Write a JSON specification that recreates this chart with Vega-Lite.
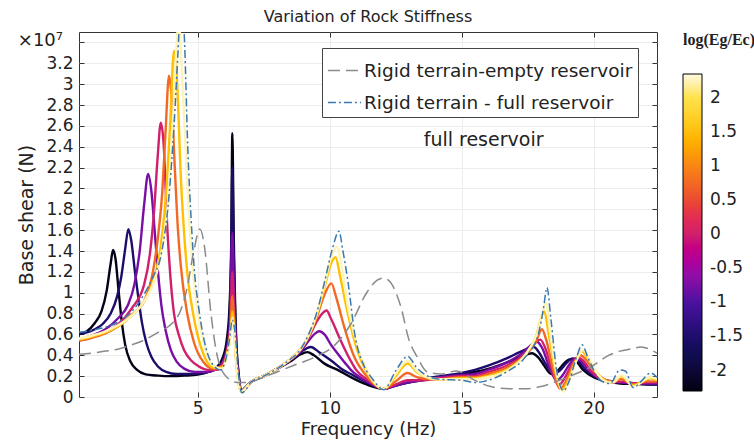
{
  "$schema": "https://vega.github.io/schema/vega-lite/v6.json",
  "autosize": "none",
  "width": 578,
  "height": 365,
  "padding": {"left": 79, "top": 32, "right": 97, "bottom": 46},
  "background": "white",
  "title": {"text": "Variation of Rock Stiffness", "fontSize": 16, "fontWeight": "normal", "font": "DejaVu Sans", "color": "#222", "offset": 7},
  "config": {
    "font": "DejaVu Sans",
    "view": {"stroke": "#333", "strokeWidth": 1},
    "axis": {"labelFont": "DejaVu Sans", "titleFont": "DejaVu Sans", "labelColor": "#222", "titleColor": "#222", "labelFontSize": 17, "titleFontSize": 19, "titleFontWeight": "normal", "gridColor": "#ececec", "domain": false, "tickColor": "#333"}
  },
  "datasets": {
    "curves": [
      {"s":-2.25,"f":0.5,"v":0.6},{"s":-2.25,"f":0.8,"v":0.63},{"s":-2.25,"f":1.1,"v":0.71},{"s":-2.25,"f":1.35,"v":0.82},{"s":-2.25,"f":1.55,"v":1.02},{"s":-2.25,"f":1.7,"v":1.28},{"s":-2.25,"f":1.79,"v":1.41},{"s":-2.25,"f":1.88,"v":1.33},{"s":-2.25,"f":2.0,"v":1.02},{"s":-2.25,"f":2.12,"v":0.72},{"s":-2.25,"f":2.25,"v":0.5},{"s":-2.25,"f":2.45,"v":0.34},{"s":-2.25,"f":2.7,"v":0.26},{"s":-2.25,"f":3.0,"v":0.22},{"s":-2.25,"f":3.5,"v":0.205},{"s":-2.25,"f":4.0,"v":0.2},{"s":-2.25,"f":4.5,"v":0.205},{"s":-2.25,"f":5.0,"v":0.215},{"s":-2.25,"f":5.4,"v":0.24},{"s":-2.25,"f":5.7,"v":0.28},{"s":-2.25,"f":5.95,"v":0.38},{"s":-2.25,"f":6.1,"v":0.55},{"s":-2.25,"f":6.2,"v":0.85},{"s":-2.25,"f":6.27,"v":1.5},{"s":-2.25,"f":6.31,"v":2.53},{"s":-2.25,"f":6.36,"v":1.6},{"s":-2.25,"f":6.45,"v":0.6},{"s":-2.25,"f":6.55,"v":0.22},{"s":-2.25,"f":6.65,"v":0.06},{"s":-2.25,"f":6.8,"v":0.09},{"s":-2.25,"f":7.0,"v":0.14},{"s":-2.25,"f":7.5,"v":0.2},{"s":-2.25,"f":8.0,"v":0.27},{"s":-2.25,"f":8.5,"v":0.34},{"s":-2.25,"f":8.9,"v":0.41},{"s":-2.25,"f":9.15,"v":0.43},{"s":-2.25,"f":9.4,"v":0.4},{"s":-2.25,"f":9.8,"v":0.32},{"s":-2.25,"f":10.3,"v":0.26},{"s":-2.25,"f":10.8,"v":0.19},{"s":-2.25,"f":11.4,"v":0.12},{"s":-2.25,"f":12.05,"v":0.08},{"s":-2.25,"f":12.5,"v":0.11},{"s":-2.25,"f":13.0,"v":0.14},{"s":-2.25,"f":13.5,"v":0.16},{"s":-2.25,"f":14.2,"v":0.19},{"s":-2.25,"f":15.0,"v":0.22},{"s":-2.25,"f":15.5,"v":0.24},{"s":-2.25,"f":16.0,"v":0.27},{"s":-2.25,"f":16.7,"v":0.33},{"s":-2.25,"f":17.2,"v":0.38},{"s":-2.25,"f":17.66,"v":0.42},{"s":-2.25,"f":17.9,"v":0.38},{"s":-2.25,"f":18.1,"v":0.31},{"s":-2.25,"f":18.4,"v":0.22},{"s":-2.25,"f":18.6,"v":0.24},{"s":-2.25,"f":18.8,"v":0.3},{"s":-2.25,"f":19.1,"v":0.36},{"s":-2.25,"f":19.3,"v":0.35},{"s":-2.25,"f":19.6,"v":0.26},{"s":-2.25,"f":20.0,"v":0.19},{"s":-2.25,"f":20.5,"v":0.15},{"s":-2.25,"f":21.0,"v":0.13},{"s":-2.25,"f":21.5,"v":0.125},{"s":-2.25,"f":22.0,"v":0.12},{"s":-2.25,"f":22.4,"v":0.12},

      {"s":-1.5,"f":0.5,"v":0.61},{"s":-1.5,"f":0.8,"v":0.62},{"s":-1.5,"f":1.1,"v":0.65},{"s":-1.5,"f":1.4,"v":0.7},{"s":-1.5,"f":1.7,"v":0.8},{"s":-1.5,"f":1.95,"v":0.97},{"s":-1.5,"f":2.1,"v":1.15},{"s":-1.5,"f":2.25,"v":1.42},{"s":-1.5,"f":2.37,"v":1.61},{"s":-1.5,"f":2.48,"v":1.5},{"s":-1.5,"f":2.62,"v":1.2},{"s":-1.5,"f":2.75,"v":0.95},{"s":-1.5,"f":2.88,"v":0.72},{"s":-1.5,"f":3.05,"v":0.52},{"s":-1.5,"f":3.25,"v":0.38},{"s":-1.5,"f":3.5,"v":0.29},{"s":-1.5,"f":3.8,"v":0.24},{"s":-1.5,"f":4.2,"v":0.22},{"s":-1.5,"f":4.7,"v":0.22},{"s":-1.5,"f":5.2,"v":0.23},{"s":-1.5,"f":5.6,"v":0.26},{"s":-1.5,"f":5.9,"v":0.33},{"s":-1.5,"f":6.1,"v":0.48},{"s":-1.5,"f":6.2,"v":0.75},{"s":-1.5,"f":6.27,"v":1.4},{"s":-1.5,"f":6.31,"v":2.2},{"s":-1.5,"f":6.36,"v":1.4},{"s":-1.5,"f":6.45,"v":0.55},{"s":-1.5,"f":6.55,"v":0.2},{"s":-1.5,"f":6.65,"v":0.06},{"s":-1.5,"f":6.8,"v":0.09},{"s":-1.5,"f":7.0,"v":0.14},{"s":-1.5,"f":7.5,"v":0.2},{"s":-1.5,"f":8.0,"v":0.27},{"s":-1.5,"f":8.5,"v":0.35},{"s":-1.5,"f":8.9,"v":0.43},{"s":-1.5,"f":9.28,"v":0.48},{"s":-1.5,"f":9.6,"v":0.43},{"s":-1.5,"f":10.05,"v":0.35},{"s":-1.5,"f":10.5,"v":0.26},{"s":-1.5,"f":10.8,"v":0.22},{"s":-1.5,"f":11.4,"v":0.14},{"s":-1.5,"f":12.05,"v":0.08},{"s":-1.5,"f":12.5,"v":0.11},{"s":-1.5,"f":13.0,"v":0.14},{"s":-1.5,"f":13.5,"v":0.17},{"s":-1.5,"f":14.2,"v":0.2},{"s":-1.5,"f":15.0,"v":0.23},{"s":-1.5,"f":15.5,"v":0.26},{"s":-1.5,"f":16.0,"v":0.3},{"s":-1.5,"f":16.7,"v":0.37},{"s":-1.5,"f":17.2,"v":0.43},{"s":-1.5,"f":17.73,"v":0.48},{"s":-1.5,"f":17.95,"v":0.42},{"s":-1.5,"f":18.15,"v":0.33},{"s":-1.5,"f":18.5,"v":0.23},{"s":-1.5,"f":18.7,"v":0.25},{"s":-1.5,"f":18.95,"v":0.32},{"s":-1.5,"f":19.2,"v":0.37},{"s":-1.5,"f":19.4,"v":0.35},{"s":-1.5,"f":19.7,"v":0.26},{"s":-1.5,"f":20.1,"v":0.19},{"s":-1.5,"f":20.5,"v":0.16},{"s":-1.5,"f":21.0,"v":0.14},{"s":-1.5,"f":21.5,"v":0.13},{"s":-1.5,"f":22.0,"v":0.125},{"s":-1.5,"f":22.4,"v":0.12},

      {"s":-0.75,"f":0.5,"v":0.55},{"s":-0.75,"f":1.0,"v":0.59},{"s":-0.75,"f":1.5,"v":0.65},{"s":-0.75,"f":2.0,"v":0.76},{"s":-0.75,"f":2.35,"v":0.88},{"s":-0.75,"f":2.6,"v":1.08},{"s":-0.75,"f":2.8,"v":1.4},{"s":-0.75,"f":2.97,"v":1.85},{"s":-0.75,"f":3.12,"v":2.14},{"s":-0.75,"f":3.24,"v":1.98},{"s":-0.75,"f":3.38,"v":1.55},{"s":-0.75,"f":3.5,"v":1.18},{"s":-0.75,"f":3.62,"v":0.88},{"s":-0.75,"f":3.78,"v":0.64},{"s":-0.75,"f":3.98,"v":0.45},{"s":-0.75,"f":4.2,"v":0.34},{"s":-0.75,"f":4.5,"v":0.27},{"s":-0.75,"f":4.9,"v":0.24},{"s":-0.75,"f":5.3,"v":0.24},{"s":-0.75,"f":5.65,"v":0.26},{"s":-0.75,"f":5.95,"v":0.33},{"s":-0.75,"f":6.1,"v":0.45},{"s":-0.75,"f":6.22,"v":0.7},{"s":-0.75,"f":6.31,"v":1.57},{"s":-0.75,"f":6.37,"v":1.0},{"s":-0.75,"f":6.45,"v":0.45},{"s":-0.75,"f":6.55,"v":0.18},{"s":-0.75,"f":6.65,"v":0.05},{"s":-0.75,"f":6.8,"v":0.08},{"s":-0.75,"f":7.0,"v":0.14},{"s":-0.75,"f":7.5,"v":0.2},{"s":-0.75,"f":8.0,"v":0.27},{"s":-0.75,"f":8.5,"v":0.35},{"s":-0.75,"f":8.9,"v":0.44},{"s":-0.75,"f":9.2,"v":0.54},{"s":-0.75,"f":9.45,"v":0.61},{"s":-0.75,"f":9.6,"v":0.63},{"s":-0.75,"f":9.8,"v":0.6},{"s":-0.75,"f":10.05,"v":0.5},{"s":-0.75,"f":10.29,"v":0.42},{"s":-0.75,"f":10.6,"v":0.32},{"s":-0.75,"f":10.8,"v":0.26},{"s":-0.75,"f":11.4,"v":0.15},{"s":-0.75,"f":12.05,"v":0.08},{"s":-0.75,"f":12.5,"v":0.11},{"s":-0.75,"f":12.95,"v":0.14},{"s":-0.75,"f":13.5,"v":0.16},{"s":-0.75,"f":14.2,"v":0.19},{"s":-0.75,"f":15.0,"v":0.21},{"s":-0.75,"f":15.5,"v":0.22},{"s":-0.75,"f":16.0,"v":0.26},{"s":-0.75,"f":16.7,"v":0.33},{"s":-0.75,"f":17.3,"v":0.42},{"s":-0.75,"f":17.85,"v":0.53},{"s":-0.75,"f":18.05,"v":0.47},{"s":-0.75,"f":18.3,"v":0.3},{"s":-0.75,"f":18.6,"v":0.16},{"s":-0.75,"f":18.8,"v":0.2},{"s":-0.75,"f":19.05,"v":0.3},{"s":-0.75,"f":19.3,"v":0.37},{"s":-0.75,"f":19.5,"v":0.35},{"s":-0.75,"f":19.8,"v":0.26},{"s":-0.75,"f":20.2,"v":0.18},{"s":-0.75,"f":20.6,"v":0.15},{"s":-0.75,"f":21.0,"v":0.14},{"s":-0.75,"f":21.5,"v":0.13},{"s":-0.75,"f":22.0,"v":0.13},{"s":-0.75,"f":22.4,"v":0.13},

      {"s":0,"f":0.5,"v":0.54},{"s":0,"f":1.0,"v":0.57},{"s":0,"f":1.5,"v":0.62},{"s":0,"f":2.0,"v":0.7},{"s":0,"f":2.5,"v":0.85},{"s":0,"f":2.97,"v":1.08},{"s":0,"f":3.2,"v":1.4},{"s":0,"f":3.35,"v":1.8},{"s":0,"f":3.48,"v":2.3},{"s":0,"f":3.6,"v":2.63},{"s":0,"f":3.7,"v":2.45},{"s":0,"f":3.85,"v":1.6},{"s":0,"f":3.98,"v":1.1},{"s":0,"f":4.1,"v":0.8},{"s":0,"f":4.3,"v":0.58},{"s":0,"f":4.48,"v":0.45},{"s":0,"f":4.75,"v":0.35},{"s":0,"f":5.0,"v":0.3},{"s":0,"f":5.4,"v":0.26},{"s":0,"f":5.7,"v":0.26},{"s":0,"f":5.95,"v":0.32},{"s":0,"f":6.12,"v":0.45},{"s":0,"f":6.24,"v":0.7},{"s":0,"f":6.31,"v":1.2},{"s":0,"f":6.37,"v":0.85},{"s":0,"f":6.45,"v":0.4},{"s":0,"f":6.55,"v":0.15},{"s":0,"f":6.65,"v":0.05},{"s":0,"f":6.8,"v":0.08},{"s":0,"f":7.0,"v":0.14},{"s":0,"f":7.5,"v":0.2},{"s":0,"f":8.0,"v":0.27},{"s":0,"f":8.5,"v":0.36},{"s":0,"f":8.9,"v":0.45},{"s":0,"f":9.2,"v":0.57},{"s":0,"f":9.5,"v":0.72},{"s":0,"f":9.75,"v":0.81},{"s":0,"f":9.88,"v":0.83},{"s":0,"f":10.05,"v":0.75},{"s":0,"f":10.4,"v":0.55},{"s":0,"f":10.79,"v":0.35},{"s":0,"f":11.0,"v":0.26},{"s":0,"f":11.4,"v":0.17},{"s":0,"f":12.05,"v":0.08},{"s":0,"f":12.5,"v":0.12},{"s":0,"f":12.95,"v":0.16},{"s":0,"f":13.5,"v":0.16},{"s":0,"f":14.2,"v":0.18},{"s":0,"f":15.0,"v":0.2},{"s":0,"f":15.5,"v":0.2},{"s":0,"f":16.0,"v":0.24},{"s":0,"f":16.7,"v":0.3},{"s":0,"f":17.4,"v":0.41},{"s":0,"f":17.98,"v":0.55},{"s":0,"f":18.15,"v":0.48},{"s":0,"f":18.4,"v":0.28},{"s":0,"f":18.67,"v":0.11},{"s":0,"f":18.9,"v":0.18},{"s":0,"f":19.15,"v":0.3},{"s":0,"f":19.4,"v":0.38},{"s":0,"f":19.6,"v":0.35},{"s":0,"f":19.9,"v":0.25},{"s":0,"f":20.3,"v":0.17},{"s":0,"f":20.7,"v":0.14},{"s":0,"f":21.1,"v":0.15},{"s":0,"f":21.6,"v":0.13},{"s":0,"f":22.0,"v":0.14},{"s":0,"f":22.4,"v":0.14},

      {"s":0.75,"f":0.5,"v":0.54},{"s":0.75,"f":1.0,"v":0.57},{"s":0.75,"f":1.5,"v":0.61},{"s":0.75,"f":2.0,"v":0.68},{"s":0.75,"f":2.5,"v":0.79},{"s":0.75,"f":2.97,"v":0.92},{"s":0.75,"f":3.3,"v":1.2},{"s":0.75,"f":3.5,"v":1.55},{"s":0.75,"f":3.65,"v":1.95},{"s":0.75,"f":3.78,"v":2.55},{"s":0.75,"f":3.91,"v":3.08},{"s":0.75,"f":4.0,"v":2.9},{"s":0.75,"f":4.12,"v":2.25},{"s":0.75,"f":4.25,"v":1.6},{"s":0.75,"f":4.36,"v":1.25},{"s":0.75,"f":4.6,"v":0.8},{"s":0.75,"f":4.86,"v":0.52},{"s":0.75,"f":5.2,"v":0.34},{"s":0.75,"f":5.6,"v":0.27},{"s":0.75,"f":5.95,"v":0.3},{"s":0.75,"f":6.12,"v":0.42},{"s":0.75,"f":6.24,"v":0.65},{"s":0.75,"f":6.31,"v":0.97},{"s":0.75,"f":6.37,"v":0.75},{"s":0.75,"f":6.45,"v":0.38},{"s":0.75,"f":6.55,"v":0.14},{"s":0.75,"f":6.65,"v":0.05},{"s":0.75,"f":6.8,"v":0.08},{"s":0.75,"f":7.0,"v":0.14},{"s":0.75,"f":7.5,"v":0.2},{"s":0.75,"f":8.0,"v":0.27},{"s":0.75,"f":8.5,"v":0.36},{"s":0.75,"f":8.9,"v":0.46},{"s":0.75,"f":9.2,"v":0.58},{"s":0.75,"f":9.5,"v":0.76},{"s":0.75,"f":9.8,"v":0.98},{"s":0.75,"f":10.06,"v":1.09},{"s":0.75,"f":10.25,"v":0.95},{"s":0.75,"f":10.54,"v":0.68},{"s":0.75,"f":10.92,"v":0.39},{"s":0.75,"f":11.4,"v":0.2},{"s":0.75,"f":12.05,"v":0.08},{"s":0.75,"f":12.5,"v":0.15},{"s":0.75,"f":12.95,"v":0.23},{"s":0.75,"f":13.3,"v":0.19},{"s":0.75,"f":13.8,"v":0.17},{"s":0.75,"f":14.2,"v":0.17},{"s":0.75,"f":15.0,"v":0.19},{"s":0.75,"f":15.5,"v":0.19},{"s":0.75,"f":16.0,"v":0.22},{"s":0.75,"f":16.7,"v":0.28},{"s":0.75,"f":17.4,"v":0.4},{"s":0.75,"f":17.8,"v":0.52},{"s":0.75,"f":18.04,"v":0.65},{"s":0.75,"f":18.2,"v":0.55},{"s":0.75,"f":18.45,"v":0.28},{"s":0.75,"f":18.73,"v":0.08},{"s":0.75,"f":18.95,"v":0.15},{"s":0.75,"f":19.2,"v":0.3},{"s":0.75,"f":19.5,"v":0.4},{"s":0.75,"f":19.7,"v":0.36},{"s":0.75,"f":20.0,"v":0.26},{"s":0.75,"f":20.4,"v":0.17},{"s":0.75,"f":20.7,"v":0.15},{"s":0.75,"f":21.05,"v":0.17},{"s":0.75,"f":21.5,"v":0.12},{"s":0.75,"f":22.0,"v":0.15},{"s":0.75,"f":22.4,"v":0.15},

      {"s":1.5,"f":0.5,"v":0.55},{"s":1.5,"f":1.0,"v":0.58},{"s":1.5,"f":1.5,"v":0.62},{"s":1.5,"f":2.0,"v":0.68},{"s":1.5,"f":2.5,"v":0.78},{"s":1.5,"f":3.0,"v":0.93},{"s":1.5,"f":3.3,"v":1.1},{"s":1.5,"f":3.6,"v":1.45},{"s":1.5,"f":3.8,"v":1.95},{"s":1.5,"f":3.95,"v":2.6},{"s":1.5,"f":4.1,"v":3.32},{"s":1.5,"f":4.2,"v":3.1},{"s":1.5,"f":4.36,"v":2.1},{"s":1.5,"f":4.6,"v":1.2},{"s":1.5,"f":4.86,"v":0.75},{"s":1.5,"f":5.2,"v":0.42},{"s":1.5,"f":5.6,"v":0.28},{"s":1.5,"f":5.9,"v":0.28},{"s":1.5,"f":6.1,"v":0.4},{"s":1.5,"f":6.24,"v":0.6},{"s":1.5,"f":6.31,"v":0.82},{"s":1.5,"f":6.37,"v":0.68},{"s":1.5,"f":6.45,"v":0.35},{"s":1.5,"f":6.55,"v":0.13},{"s":1.5,"f":6.65,"v":0.05},{"s":1.5,"f":6.8,"v":0.08},{"s":1.5,"f":7.0,"v":0.14},{"s":1.5,"f":7.5,"v":0.2},{"s":1.5,"f":8.0,"v":0.27},{"s":1.5,"f":8.5,"v":0.36},{"s":1.5,"f":8.9,"v":0.46},{"s":1.5,"f":9.2,"v":0.59},{"s":1.5,"f":9.5,"v":0.78},{"s":1.5,"f":9.8,"v":1.05},{"s":1.5,"f":10.05,"v":1.28},{"s":1.5,"f":10.22,"v":1.34},{"s":1.5,"f":10.4,"v":1.15},{"s":1.5,"f":10.66,"v":0.83},{"s":1.5,"f":11.04,"v":0.45},{"s":1.5,"f":11.4,"v":0.24},{"s":1.5,"f":12.05,"v":0.08},{"s":1.5,"f":12.5,"v":0.2},{"s":1.5,"f":12.95,"v":0.32},{"s":1.5,"f":13.3,"v":0.24},{"s":1.5,"f":13.8,"v":0.18},{"s":1.5,"f":14.2,"v":0.17},{"s":1.5,"f":15.0,"v":0.18},{"s":1.5,"f":15.5,"v":0.18},{"s":1.5,"f":16.0,"v":0.2},{"s":1.5,"f":16.7,"v":0.26},{"s":1.5,"f":17.4,"v":0.4},{"s":1.5,"f":17.8,"v":0.57},{"s":1.5,"f":18.13,"v":0.82},{"s":1.5,"f":18.3,"v":0.6},{"s":1.5,"f":18.55,"v":0.25},{"s":1.5,"f":18.8,"v":0.07},{"s":1.5,"f":19.0,"v":0.14},{"s":1.5,"f":19.3,"v":0.33},{"s":1.5,"f":19.55,"v":0.44},{"s":1.5,"f":19.75,"v":0.38},{"s":1.5,"f":20.1,"v":0.24},{"s":1.5,"f":20.5,"v":0.15},{"s":1.5,"f":20.7,"v":0.14},{"s":1.5,"f":21.05,"v":0.2},{"s":1.5,"f":21.5,"v":0.11},{"s":1.5,"f":22.15,"v":0.18},{"s":1.5,"f":22.4,"v":0.16},

      {"s":2.25,"f":0.5,"v":0.56},{"s":2.25,"f":1.0,"v":0.59},{"s":2.25,"f":1.5,"v":0.63},{"s":2.25,"f":2.0,"v":0.69},{"s":2.25,"f":2.5,"v":0.78},{"s":2.25,"f":3.0,"v":0.93},{"s":2.25,"f":3.4,"v":1.15},{"s":2.25,"f":3.7,"v":1.5},{"s":2.25,"f":3.9,"v":1.95},{"s":2.25,"f":4.05,"v":2.6},{"s":2.25,"f":4.18,"v":3.3},{"s":2.25,"f":4.28,"v":3.6},{"s":2.25,"f":4.38,"v":3.2},{"s":2.25,"f":4.5,"v":2.6},{"s":2.25,"f":4.7,"v":1.6},{"s":2.25,"f":4.9,"v":1.0},{"s":2.25,"f":5.2,"v":0.55},{"s":2.25,"f":5.6,"v":0.3},{"s":2.25,"f":5.9,"v":0.27},{"s":2.25,"f":6.1,"v":0.38},{"s":2.25,"f":6.24,"v":0.58},{"s":2.25,"f":6.31,"v":0.76},{"s":2.25,"f":6.38,"v":0.62},{"s":2.25,"f":6.46,"v":0.32},{"s":2.25,"f":6.55,"v":0.12},{"s":2.25,"f":6.65,"v":0.05},{"s":2.25,"f":6.8,"v":0.08},{"s":2.25,"f":7.0,"v":0.14},{"s":2.25,"f":7.5,"v":0.2},{"s":2.25,"f":8.0,"v":0.27},{"s":2.25,"f":8.5,"v":0.36},{"s":2.25,"f":8.9,"v":0.46},{"s":2.25,"f":9.2,"v":0.59},{"s":2.25,"f":9.5,"v":0.79},{"s":2.25,"f":9.8,"v":1.08},{"s":2.25,"f":10.1,"v":1.38},{"s":2.25,"f":10.29,"v":1.44},{"s":2.25,"f":10.45,"v":1.25},{"s":2.25,"f":10.7,"v":0.85},{"s":2.25,"f":11.1,"v":0.45},{"s":2.25,"f":11.4,"v":0.26},{"s":2.25,"f":12.05,"v":0.08},{"s":2.25,"f":12.5,"v":0.22},{"s":2.25,"f":12.95,"v":0.35},{"s":2.25,"f":13.3,"v":0.25},{"s":2.25,"f":13.8,"v":0.18},{"s":2.25,"f":14.2,"v":0.17},{"s":2.25,"f":15.0,"v":0.17},{"s":2.25,"f":15.5,"v":0.17},{"s":2.25,"f":16.0,"v":0.19},{"s":2.25,"f":16.7,"v":0.25},{"s":2.25,"f":17.4,"v":0.4},{"s":2.25,"f":17.85,"v":0.6},{"s":2.25,"f":18.2,"v":0.9},{"s":2.25,"f":18.35,"v":0.62},{"s":2.25,"f":18.6,"v":0.22},{"s":2.25,"f":18.85,"v":0.05},{"s":2.25,"f":19.05,"v":0.14},{"s":2.25,"f":19.35,"v":0.35},{"s":2.25,"f":19.6,"v":0.45},{"s":2.25,"f":19.8,"v":0.38},{"s":2.25,"f":20.15,"v":0.22},{"s":2.25,"f":20.55,"v":0.14},{"s":2.25,"f":20.75,"v":0.14},{"s":2.25,"f":21.05,"v":0.21},{"s":2.25,"f":21.5,"v":0.1},{"s":2.25,"f":22.15,"v":0.19},{"s":2.25,"f":22.4,"v":0.17}
    ],
    "refs": [
      {"r":"Rigid terrain-empty reservoir","f":0.5,"v":0.41},{"r":"Rigid terrain-empty reservoir","f":1.0,"v":0.42},{"r":"Rigid terrain-empty reservoir","f":1.5,"v":0.44},{"r":"Rigid terrain-empty reservoir","f":2.0,"v":0.46},{"r":"Rigid terrain-empty reservoir","f":2.5,"v":0.5},{"r":"Rigid terrain-empty reservoir","f":3.0,"v":0.55},{"r":"Rigid terrain-empty reservoir","f":3.5,"v":0.62},{"r":"Rigid terrain-empty reservoir","f":4.0,"v":0.7},{"r":"Rigid terrain-empty reservoir","f":4.3,"v":0.8},{"r":"Rigid terrain-empty reservoir","f":4.6,"v":1.05},{"r":"Rigid terrain-empty reservoir","f":4.85,"v":1.4},{"r":"Rigid terrain-empty reservoir","f":5.08,"v":1.61},{"r":"Rigid terrain-empty reservoir","f":5.25,"v":1.45},{"r":"Rigid terrain-empty reservoir","f":5.5,"v":0.8},{"r":"Rigid terrain-empty reservoir","f":5.75,"v":0.38},{"r":"Rigid terrain-empty reservoir","f":6.1,"v":0.19},{"r":"Rigid terrain-empty reservoir","f":6.5,"v":0.14},{"r":"Rigid terrain-empty reservoir","f":6.9,"v":0.14},{"r":"Rigid terrain-empty reservoir","f":7.4,"v":0.18},{"r":"Rigid terrain-empty reservoir","f":8.0,"v":0.24},{"r":"Rigid terrain-empty reservoir","f":8.6,"v":0.3},{"r":"Rigid terrain-empty reservoir","f":9.5,"v":0.39},{"r":"Rigid terrain-empty reservoir","f":10.2,"v":0.5},{"r":"Rigid terrain-empty reservoir","f":10.8,"v":0.7},{"r":"Rigid terrain-empty reservoir","f":11.4,"v":1.0},{"r":"Rigid terrain-empty reservoir","f":11.8,"v":1.12},{"r":"Rigid terrain-empty reservoir","f":12.05,"v":1.14},{"r":"Rigid terrain-empty reservoir","f":12.3,"v":1.1},{"r":"Rigid terrain-empty reservoir","f":12.7,"v":0.86},{"r":"Rigid terrain-empty reservoir","f":13.0,"v":0.55},{"r":"Rigid terrain-empty reservoir","f":13.3,"v":0.39},{"r":"Rigid terrain-empty reservoir","f":13.7,"v":0.24},{"r":"Rigid terrain-empty reservoir","f":14.2,"v":0.22},{"r":"Rigid terrain-empty reservoir","f":14.8,"v":0.25},{"r":"Rigid terrain-empty reservoir","f":15.5,"v":0.16},{"r":"Rigid terrain-empty reservoir","f":16.1,"v":0.1},{"r":"Rigid terrain-empty reservoir","f":16.8,"v":0.08},{"r":"Rigid terrain-empty reservoir","f":17.5,"v":0.08},{"r":"Rigid terrain-empty reservoir","f":18.0,"v":0.1},{"r":"Rigid terrain-empty reservoir","f":18.6,"v":0.15},{"r":"Rigid terrain-empty reservoir","f":19.2,"v":0.21},{"r":"Rigid terrain-empty reservoir","f":19.9,"v":0.29},{"r":"Rigid terrain-empty reservoir","f":20.5,"v":0.39},{"r":"Rigid terrain-empty reservoir","f":21.0,"v":0.44},{"r":"Rigid terrain-empty reservoir","f":21.4,"v":0.46},{"r":"Rigid terrain-empty reservoir","f":21.8,"v":0.48},{"r":"Rigid terrain-empty reservoir","f":22.1,"v":0.46},{"r":"Rigid terrain-empty reservoir","f":22.4,"v":0.42},

      {"r":"Rigid terrain - full reservoir","f":0.5,"v":0.62},{"r":"Rigid terrain - full reservoir","f":1.0,"v":0.64},{"r":"Rigid terrain - full reservoir","f":1.5,"v":0.67},{"r":"Rigid terrain - full reservoir","f":2.0,"v":0.72},{"r":"Rigid terrain - full reservoir","f":2.5,"v":0.82},{"r":"Rigid terrain - full reservoir","f":3.0,"v":1.0},{"r":"Rigid terrain - full reservoir","f":3.3,"v":1.15},{"r":"Rigid terrain - full reservoir","f":3.6,"v":1.35},{"r":"Rigid terrain - full reservoir","f":3.9,"v":1.9},{"r":"Rigid terrain - full reservoir","f":4.1,"v":2.6},{"r":"Rigid terrain - full reservoir","f":4.25,"v":3.3},{"r":"Rigid terrain - full reservoir","f":4.38,"v":3.9},{"r":"Rigid terrain - full reservoir","f":4.5,"v":3.4},{"r":"Rigid terrain - full reservoir","f":4.62,"v":2.4},{"r":"Rigid terrain - full reservoir","f":4.75,"v":1.7},{"r":"Rigid terrain - full reservoir","f":4.86,"v":1.25},{"r":"Rigid terrain - full reservoir","f":5.05,"v":0.83},{"r":"Rigid terrain - full reservoir","f":5.3,"v":0.48},{"r":"Rigid terrain - full reservoir","f":5.6,"v":0.3},{"r":"Rigid terrain - full reservoir","f":5.85,"v":0.26},{"r":"Rigid terrain - full reservoir","f":6.05,"v":0.35},{"r":"Rigid terrain - full reservoir","f":6.2,"v":0.55},{"r":"Rigid terrain - full reservoir","f":6.31,"v":0.74},{"r":"Rigid terrain - full reservoir","f":6.42,"v":0.6},{"r":"Rigid terrain - full reservoir","f":6.55,"v":0.2},{"r":"Rigid terrain - full reservoir","f":6.67,"v":0.04},{"r":"Rigid terrain - full reservoir","f":6.85,"v":0.08},{"r":"Rigid terrain - full reservoir","f":7.0,"v":0.14},{"r":"Rigid terrain - full reservoir","f":7.5,"v":0.2},{"r":"Rigid terrain - full reservoir","f":8.0,"v":0.27},{"r":"Rigid terrain - full reservoir","f":8.5,"v":0.36},{"r":"Rigid terrain - full reservoir","f":8.9,"v":0.46},{"r":"Rigid terrain - full reservoir","f":9.2,"v":0.6},{"r":"Rigid terrain - full reservoir","f":9.5,"v":0.8},{"r":"Rigid terrain - full reservoir","f":9.8,"v":1.1},{"r":"Rigid terrain - full reservoir","f":10.1,"v":1.42},{"r":"Rigid terrain - full reservoir","f":10.35,"v":1.59},{"r":"Rigid terrain - full reservoir","f":10.5,"v":1.4},{"r":"Rigid terrain - full reservoir","f":10.7,"v":1.09},{"r":"Rigid terrain - full reservoir","f":10.95,"v":0.6},{"r":"Rigid terrain - full reservoir","f":11.3,"v":0.3},{"r":"Rigid terrain - full reservoir","f":11.6,"v":0.18},{"r":"Rigid terrain - full reservoir","f":12.05,"v":0.07},{"r":"Rigid terrain - full reservoir","f":12.5,"v":0.25},{"r":"Rigid terrain - full reservoir","f":12.95,"v":0.39},{"r":"Rigid terrain - full reservoir","f":13.3,"v":0.28},{"r":"Rigid terrain - full reservoir","f":13.8,"v":0.19},{"r":"Rigid terrain - full reservoir","f":14.2,"v":0.17},{"r":"Rigid terrain - full reservoir","f":15.0,"v":0.16},{"r":"Rigid terrain - full reservoir","f":15.5,"v":0.14},{"r":"Rigid terrain - full reservoir","f":16.0,"v":0.16},{"r":"Rigid terrain - full reservoir","f":16.7,"v":0.24},{"r":"Rigid terrain - full reservoir","f":17.4,"v":0.38},{"r":"Rigid terrain - full reservoir","f":17.9,"v":0.6},{"r":"Rigid terrain - full reservoir","f":18.1,"v":0.85},{"r":"Rigid terrain - full reservoir","f":18.23,"v":1.05},{"r":"Rigid terrain - full reservoir","f":18.38,"v":0.75},{"r":"Rigid terrain - full reservoir","f":18.6,"v":0.25},{"r":"Rigid terrain - full reservoir","f":18.86,"v":0.06},{"r":"Rigid terrain - full reservoir","f":19.05,"v":0.14},{"r":"Rigid terrain - full reservoir","f":19.35,"v":0.38},{"r":"Rigid terrain - full reservoir","f":19.56,"v":0.5},{"r":"Rigid terrain - full reservoir","f":19.78,"v":0.38},{"r":"Rigid terrain - full reservoir","f":20.25,"v":0.16},{"r":"Rigid terrain - full reservoir","f":20.62,"v":0.13},{"r":"Rigid terrain - full reservoir","f":21.0,"v":0.26},{"r":"Rigid terrain - full reservoir","f":21.2,"v":0.25},{"r":"Rigid terrain - full reservoir","f":21.5,"v":0.09},{"r":"Rigid terrain - full reservoir","f":21.8,"v":0.15},{"r":"Rigid terrain - full reservoir","f":22.15,"v":0.23},{"r":"Rigid terrain - full reservoir","f":22.4,"v":0.19}
    ],
    "notes": [{"f": 15.83, "v": 2.46, "t": "full reservoir"}],
    "mult": [{"f": 0.5, "v": 3.5, "t": "×10⁷"}]
  },
  "resolve": {"axis": {"x": "independent", "y": "independent"}},
  "layer": [
    {
      "data": {"name": "curves"},
      "mark": {"type": "line", "strokeWidth": 2.4, "clip": true, "interpolate": "monotone"},
      "encoding": {
        "x": {"field": "f", "type": "quantitative", "scale": {"domain": [0.5, 22.4], "nice": false, "zero": false},
              "axis": {"orient": "bottom", "title": "Frequency (Hz)", "titleFontSize": 18, "values": [5, 10, 15, 20], "grid": true, "tickSize": -5, "labelPadding": 8, "titlePadding": 4}},
        "y": {"field": "v", "type": "quantitative", "scale": {"domain": [0, 3.5], "nice": false},
              "axis": {"orient": "left", "title": "Base shear (N)", "values": [0,0.2,0.4,0.6,0.8,1,1.2,1.4,1.6,1.8,2,2.2,2.4,2.6,2.8,3,3.2,3.4], "labelExpr": "datum.value > 3.3 ? '' : '' + datum.value", "grid": true, "tickSize": -5, "labelPadding": 11, "titlePadding": 9}},
        "detail": {"field": "s", "type": "nominal"},
        "color": {"field": "s", "type": "quantitative",
                  "scale": {"domain": [-2.3, -2, -1.5, -1, -0.5, 0, 0.5, 1, 1.5, 2, 2.35],
                            "range": ["#000010", "#0c0838", "#1e0c6c", "#4a12a0", "#a010a8", "#d0206c", "#ea4a30", "#f88614", "#ffc000", "#ffe24a", "#fffae0"]},
                  "legend": {"orient": "right", "offset": 25, "title": "log(Eg/Ec)", "titleFont": "Liberation Serif", "titleFontSize": 16, "titleFontWeight": "bold", "titleColor": "#222", "titlePadding": 26, "gradientLength": 317, "gradientThickness": 19, "gradientStrokeColor": "#000", "gradientStrokeWidth": 1, "values": [-2, -1.5, -1, -0.5, 0, 0.5, 1, 1.5, 2], "labelExpr": "'' + datum.value", "labelFontSize": 17, "labelColor": "#222", "labelOffset": 8, "direction": "vertical"}}
      }
    },
    {
      "data": {"name": "refs"},
      "mark": {"type": "line", "strokeWidth": 1.5, "clip": true, "interpolate": "monotone"},
      "encoding": {
        "x": {"field": "f", "type": "quantitative", "axis": null},
        "y": {"field": "v", "type": "quantitative", "axis": null},
        "stroke": {"field": "r", "type": "nominal",
                   "scale": {"domain": ["Rigid terrain-empty reservoir", "Rigid terrain - full reservoir"], "range": ["#8a8a8a", "#3b78b0"]},
                   "legend": {"orient": "none", "legendX": 243, "legendY": 16, "title": null, "fillColor": "white", "strokeColor": "#444", "padding": 5, "labelFontSize": 18.5, "labelColor": "#222", "labelLimit": 400, "symbolType": "stroke", "symbolSize": 1100, "symbolStrokeWidth": 1.5, "rowPadding": 5, "labelOffset": 2}},
        "strokeDash": {"field": "r", "type": "nominal",
                       "scale": {"domain": ["Rigid terrain-empty reservoir", "Rigid terrain - full reservoir"], "range": [[12, 6], [8, 3, 2, 3]]},
                       "legend": {"orient": "none", "legendX": 243, "legendY": 16, "title": null, "fillColor": "white", "strokeColor": "#444", "padding": 5, "labelFontSize": 18.5, "labelColor": "#222", "labelLimit": 400, "symbolType": "stroke", "symbolSize": 1100, "symbolStrokeWidth": 1.5, "rowPadding": 5, "labelOffset": 2}}
      }
    },
    {
      "data": {"name": "notes"},
      "mark": {"type": "text", "fontSize": 19, "color": "#222", "align": "center", "baseline": "middle"},
      "encoding": {
        "x": {"field": "f", "type": "quantitative", "axis": {"orient": "top", "values": [5, 10, 15, 20], "labels": false, "grid": false, "tickSize": -5, "title": null}},
        "y": {"field": "v", "type": "quantitative", "axis": {"orient": "right", "values": [0,0.2,0.4,0.6,0.8,1,1.2,1.4,1.6,1.8,2,2.2,2.4,2.6,2.8,3,3.2,3.4], "labels": false, "grid": false, "tickSize": -5, "title": null}},
        "text": {"field": "t"}
      }
    },
    {
      "data": {"name": "mult"},
      "mark": {"type": "text", "fontSize": 18, "color": "#222", "align": "right", "baseline": "middle", "dx": -16, "dy": 9},
      "encoding": {
        "x": {"field": "f", "type": "quantitative", "axis": null},
        "y": {"field": "v", "type": "quantitative", "axis": null},
        "text": {"field": "t"}
      }
    }
  ]
}
